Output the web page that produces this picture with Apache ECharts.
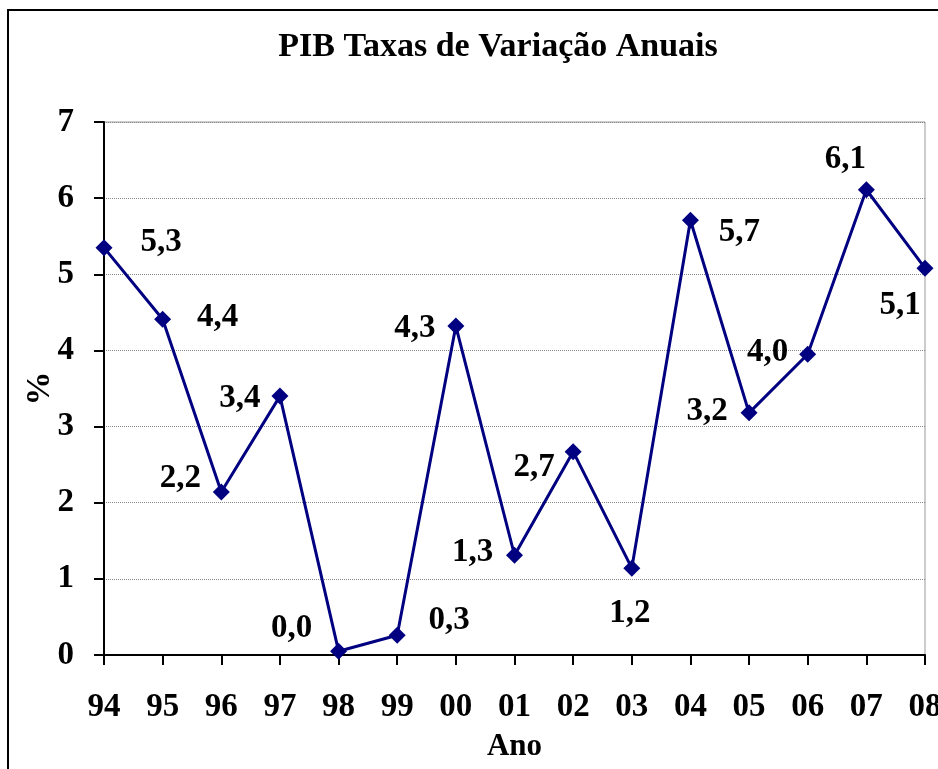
<!DOCTYPE html>
<html lang="pt">
<head>
  <meta charset="UTF-8">
  <title>PIB Taxas de Variação Anuais</title>
  <style>
    html, body { margin: 0; padding: 0; background: #fff; }
    #chart { width: 938px; height: 769px; }
  </style>
</head>
<body>
<div id="chart"></div>
<script src="https://cdn.jsdelivr.net/npm/echarts@6/dist/echarts.min.js"></script>
<script>
  // dados
  var anos = ['94', '95', '96', '97', '98', '99', '00', '01', '02', '03', '04', '05', '06', '07', '08'];
  var taxas = [5.35, 4.41, 2.14, 3.40, 0.05, 0.26, 4.32, 1.31, 2.67, 1.14, 5.71, 3.18, 3.95, 6.11, 5.08];
  var rotulos = ['5,3', '4,4', '2,2', '3,4', '0,0', '0,3', '4,3', '1,3', '2,7', '1,2', '5,7', '3,2', '4,0', '6,1', '5,1'];
  var yTicks = [0, 1, 2, 3, 4, 5, 6, 7];

  // deslocamento de cada rótulo em relação ao ponto (px)
  var deslocRotulo = [
    [57, -5], [55, -2], [-41, -14], [-40, 2], [-47, -23], [52, -15], [-41, 2], [-42, -3],
    [-39, 16], [-2, 45], [49, 12], [-42, -1], [-40, -2], [-21, -30], [-25, 37]
  ];

  var fonte = '"Liberation Serif", "Times New Roman", serif';

  var myChart = echarts.init(document.getElementById('chart'));
  var options = {
    backgroundColor: '#fff',
    animation: false,
    title: {
      text: 'PIB Taxas de Variação Anuais',
      left: 493,
      textAlign: 'center',
      top: 25,
      textStyle: { fontFamily: fonte, fontWeight: 'bold', fontSize: 34, color: '#000' }
    },
    graphic: [{
      type: 'rect',
      shape: { x: 8, y: 10, width: 950, height: 780 },
      style: { fill: 'none', stroke: '#000', lineWidth: 2 },
      silent: true
    }],
    grid: {
      left: 104, right: 13, top: 122, bottom: 114,
      outerBoundsMode: 'none',
      containLabel: false,
      show: true, borderColor: '#999', borderWidth: 1
    },
    xAxis: {
      type: 'category',
      data: anos,
      boundaryGap: false,
      name: 'Ano',
      nameLocation: 'middle',
      nameGap: 76,
      nameMoveOverlap: false,
      nameTextStyle: { fontFamily: fonte, fontWeight: 'bold', fontSize: 31, color: '#000' },
      axisLine: { lineStyle: { color: '#000', width: 2 } },
      axisTick: { show: true, length: 10, interval: 0, lineStyle: { color: '#000', width: 2 } },
      axisLabel: { interval: 0, margin: 36, hideOverlap: false, fontFamily: fonte, fontWeight: 'bold', fontSize: 33, color: '#000' },
      splitLine: { show: false }
    },
    yAxis: {
      type: 'value',
      min: yTicks[0],
      max: yTicks[yTicks.length - 1],
      interval: 1,
      name: '%',
      nameLocation: 'middle',
      nameGap: 47,
      nameMoveOverlap: false,
      nameRotate: 90,
      nameTextStyle: { fontFamily: fonte, fontWeight: 'bold', fontSize: 34, color: '#000' },
      axisLine: { show: true, lineStyle: { color: '#000', width: 2 } },
      axisTick: { show: true, length: 10, lineStyle: { color: '#000', width: 2 } },
      axisLabel: { margin: 30, fontFamily: fonte, fontWeight: 'bold', fontSize: 33, color: '#000' },
      splitLine: { show: true, lineStyle: { color: '#888', type: 'dotted', width: 1 } }
    },
    series: [{
      type: 'line',
      data: taxas.map(function (v, i) {
        return {
          value: v,
          label: { offset: deslocRotulo[i] }
        };
      }),
      symbol: 'diamond',
      symbolSize: 17,
      showAllSymbol: true,
      lineStyle: { color: '#000080', width: 3 },
      itemStyle: { color: '#000080' },
      label: {
        show: true,
        position: 'inside',
        formatter: function (p) { return rotulos[p.dataIndex]; },
        fontFamily: fonte,
        fontWeight: 'bold',
        fontSize: 33,
        color: '#000'
      }
    }]
  };

  myChart.setOption(options);
  window.addEventListener('resize', function () {
    myChart.resize();
  });
</script>
</body>
</html>
